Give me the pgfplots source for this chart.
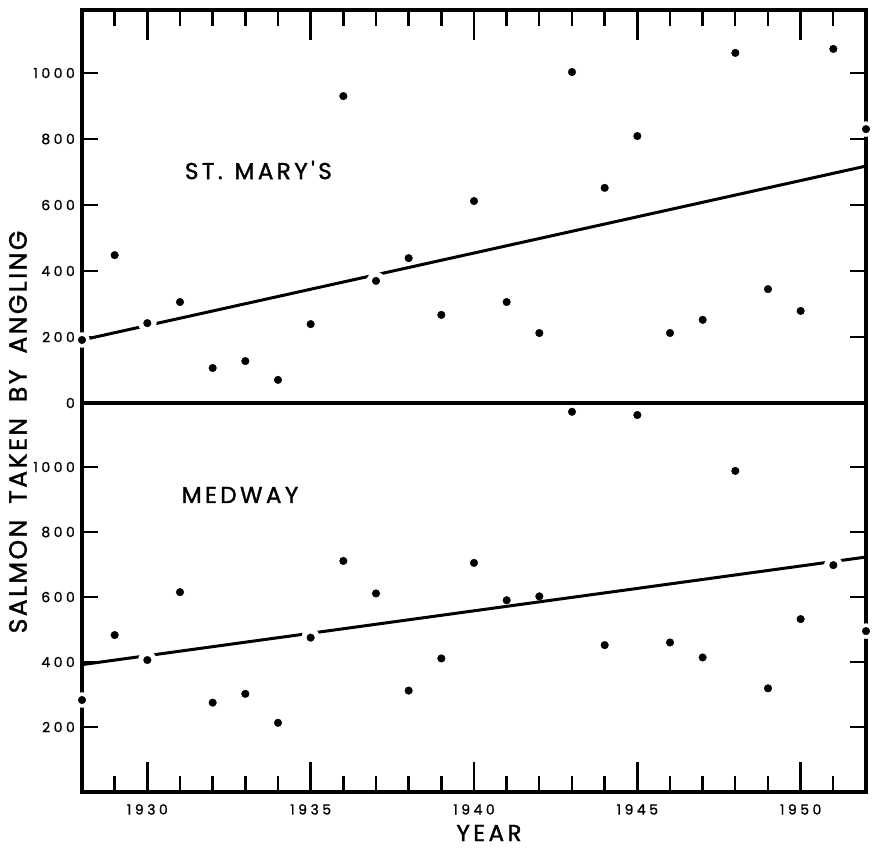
\documentclass[border=0pt]{standalone}
\usepackage{fontspec}
\setmainfont{Poppins}
\usepackage{pgfplots}
\pgfplotsset{compat=1.18}
\newfontfamily\tickfont[LetterSpace=25,FakeBold=1.2]{Poppins}
\newfontfamily\labfont[LetterSpace=15,FakeBold=1.5]{Poppins}
\newfontfamily\ylabfont[LetterSpace=10,FakeBold=1.5]{Poppins}

\pgfplotsset{
  panel/.style={
    scale only axis, width=784pt,
    xmin=1928, xmax=1952, ymin=0,
    axis line style={line width=3.2pt},
    tick align=inside,
    xtick={1930,1935,...,1950},
    minor xtick={1929,...,1951},
    major tick length=30pt, minor tick length=16pt,
    every tick/.style={black, line width=2.4pt},
    major y tick style={draw=none},
    ytick pos=both,
    yticklabel style={font=\fontsize{14}{14}\selectfont\tickfont, anchor=east, inner sep=0pt, xshift=-7pt},
    xticklabel style={font=\fontsize{14}{14}\selectfont\tickfont, anchor=north, inner sep=0pt, yshift=-12pt},
    /pgf/number format/assume math mode=true,
    /pgf/number format/1000 sep={},
    clip=false,
  },
  gap/.style={only marks, mark=*, mark size=9pt, white, forget plot},
  edgegap/.style={only marks, mark=*, mark size=7.5pt, white, forget plot},
  pts/.style={only marks, mark=*, mark size=3.8pt, black},
  fit/.style={no marks, line width=3pt, black},
}

\begin{document}
\begin{tikzpicture}
% ---------- Medway (bottom) ----------
\begin{axis}[panel, height=389pt, ymax=1197,
  at={(0pt,0pt)}, anchor=south west,
  xtick pos=left,
  ytick={200,400,...,1000},
  minor ytick={200,400,...,1000}]
\addplot[fit] coordinates {(1928,392) (1952,723)};
\addplot[gap] coordinates {(1930,406) (1935,475) (1951,698)};
\addplot[edgegap] coordinates {(1928,283) (1952,495)};
\addplot[pts] coordinates {
(1928,283) (1929,483) (1930,406) (1931,615) (1932,275) (1933,302)
(1934,213) (1935,475) (1936,711) (1937,611) (1938,312) (1939,411)
(1940,705) (1941,590) (1942,602) (1943,1170) (1944,452) (1945,1160)
(1946,460) (1947,414) (1948,988) (1949,319) (1950,532) (1951,698) (1952,495)};
\node[font=\fontsize{23}{23}\selectfont\labfont] at (axis cs:1932.84,914) {MEDWAY};
\end{axis}
% ---------- St. Mary's (top) ----------
\begin{axis}[panel, height=393pt, ymax=1191,
  at={(0pt,389pt)}, anchor=south west,
  xtick pos=right, xticklabels={},
  ytick={0,200,...,1000},
  minor ytick={200,400,...,1000}]
\addplot[fit] coordinates {(1928,191) (1952,718)};
\addplot[gap] coordinates {(1930,242) (1937,370)};
\addplot[edgegap] coordinates {(1928,191) (1952,830)};
\addplot[pts] coordinates {
(1928,191) (1929,448) (1930,242) (1931,306) (1932,106) (1933,127)
(1934,70) (1935,239) (1936,930) (1937,370) (1938,439) (1939,267)
(1940,612) (1941,306) (1942,212) (1943,1003) (1944,652) (1945,809)
(1946,212) (1947,252) (1948,1061) (1949,345) (1950,279) (1951,1073) (1952,830)};
\node[font=\fontsize{23}{23}\selectfont\labfont] at (axis cs:1933.4,706) {ST.\hspace{12pt}MARY'S};
\end{axis}
\node[font=\fontsize{23}{23}\selectfont\labfont] at (407pt,-41pt) {YEAR};
\node[font=\fontsize{25}{25}\selectfont\ylabfont, rotate=90] at (-64pt,360pt)
  {SALMON\hspace{16pt}TAKEN\hspace{16pt}BY\hspace{16pt}ANGLING};
\pgfresetboundingbox
\path[use as bounding box] (-82pt,-56pt) rectangle (790pt,792pt);
\end{tikzpicture}
\end{document}
